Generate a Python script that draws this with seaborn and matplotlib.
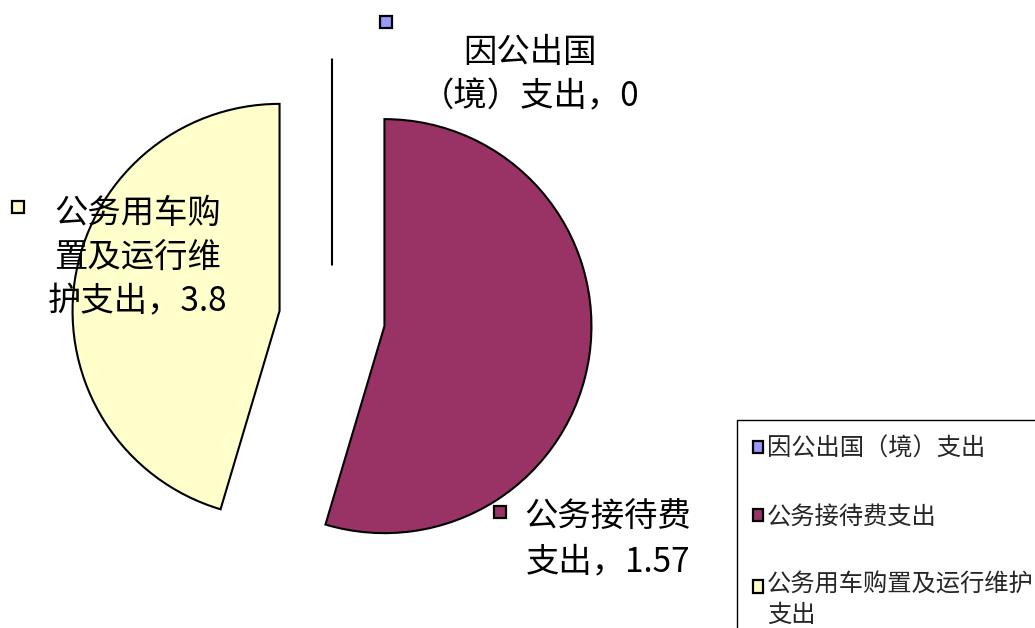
import numpy as np
import matplotlib
matplotlib.use("Agg")
import matplotlib.pyplot as plt
from matplotlib.patches import Patch
import seaborn as sns

# dati
categorie = ['因公出国（境）支出', '公务接待费支出', '公务用车购置及运行维护支出']
valori = [0, 1.57, 3.8]
# quota angolare delle fette come appare nel grafico (%)
quote_fette = [0, 54.6, 45.4]
etichette_dati = ['因公出国\n（境）支出，0', '公务接待费\n支出，1.57', '公务用车购\n置及运行维\n护支出，3.8']
etichette_legenda = ['因公出国（境）支出', '公务接待费支出', '公务用车购置及运行维护\n支出']
colori = ['#9999FF', '#993366', '#FFFFCC']

sns.set_theme(style='white')
plt.rcParams['font.family'] = ['Noto Sans CJK SC', 'DejaVu Sans']

W, H = 1035, 628
fig = plt.figure(figsize=(W / 100, H / 100), dpi=100)
ax = fig.add_axes([0, 0, 1, 1])

# torta esplosa, parte da ore 12 in senso orario (explode in unita' dati)
ax.pie(quote_fette, colors=colori, startangle=90, counterclock=False,
       explode=[53] * 3, radius=207, center=(332, H - 318.5),
       wedgeprops=dict(edgecolor='black', linewidth=1.5))
ax.set_xlim(0, W)
ax.set_ylim(0, H)
ax.set_aspect('equal')
ax.axis('off')

# etichette dati con chiave colorata
pos_testo = [(530, 74.5), (608, 539.5), (138, 257.5)]
pos_chiave = [(386, 22), (500, 512), (18, 207)]
for testo, (tx, ty), (kx, ky), c in zip(etichette_dati, pos_testo, pos_chiave, colori):
    ax.text(tx, H - ty, testo, ha='center', va='center', fontsize=24,
            linespacing=1.35, color='black')
    ax.plot(kx, H - ky, marker='s', markersize=8, markerfacecolor=c,
            markeredgecolor='black', markeredgewidth=1.6, linestyle='none')

# legenda (tagliata dal bordo come nell'originale)
handles = [Patch(facecolor=c, edgecolor='black', linewidth=1.6) for c in colori]
leg = fig.legend(handles, etichette_legenda, loc='upper left',
                 bbox_to_anchor=(737 / W, 1 - 420 / H), borderaxespad=0,
                 fontsize=17.5, handlelength=0.42, handleheight=0.42,
                 handletextpad=0.15, labelspacing=1.73, borderpad=0.65,
                 fancybox=False, framealpha=1, edgecolor='black')
leg.get_frame().set_linewidth(1.0)
# chiave della voce su due righe allineata alla prima riga
r = leg.legend_handles[2]
r.set_y(r.get_y() + 10.8)

plt.savefig('out.png', dpi=100)
